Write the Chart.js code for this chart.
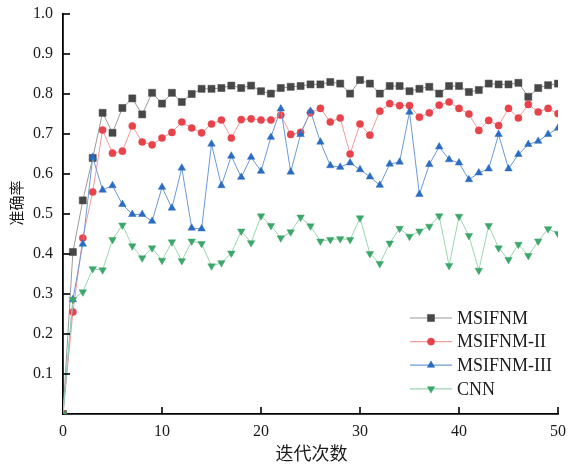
<!DOCTYPE html>
<html>
<head>
<meta charset="utf-8">
<script src="https://cdn.jsdelivr.net/npm/chart.js@4/dist/chart.umd.min.js"></script>
<style>
  html, body { margin: 0; padding: 0; background: #fff; }
  #wrap { width: 569px; height: 468px; }
</style>
</head>
<body>
<div id="wrap"><canvas id="c" width="569" height="468"></canvas></div>
<script>
// Iterations 0..50
const iterations = Array.from({ length: 51 }, (_, i) => i);

const seriesNames = ['MSIFNM', 'MSIFNM-II', 'MSIFNM-III', 'CNN'];

const msifnm = [
  0.000, 0.405, 0.534, 0.640, 0.753, 0.703, 0.765, 0.789, 0.749, 0.803,
  0.776, 0.803, 0.780, 0.800, 0.813, 0.813, 0.815, 0.821, 0.815, 0.821,
  0.807, 0.801, 0.815, 0.818, 0.820, 0.824, 0.824, 0.830, 0.826, 0.801,
  0.835, 0.826, 0.801, 0.820, 0.820, 0.807, 0.813, 0.818, 0.801, 0.820,
  0.820, 0.805, 0.810, 0.826, 0.824, 0.824, 0.828, 0.793, 0.815, 0.822,
  0.826
];

const msifnm2 = [
  0.000, 0.255, 0.440, 0.555, 0.710, 0.652, 0.657, 0.720, 0.680, 0.673,
  0.690, 0.704, 0.730, 0.715, 0.703, 0.725, 0.735, 0.690, 0.736, 0.738,
  0.735, 0.735, 0.747, 0.699, 0.704, 0.753, 0.764, 0.730, 0.740, 0.650,
  0.725, 0.697, 0.757, 0.776, 0.771, 0.771, 0.742, 0.753, 0.772, 0.780,
  0.764, 0.750, 0.709, 0.734, 0.721, 0.764, 0.740, 0.774, 0.755, 0.764,
  0.751
];

const msifnm3 = [
  0.000, 0.286, 0.425, 0.642, 0.560, 0.571, 0.524, 0.499, 0.499, 0.482,
  0.567, 0.515, 0.615, 0.465, 0.463, 0.675, 0.571, 0.645, 0.592, 0.642,
  0.607, 0.692, 0.763, 0.605, 0.699, 0.757, 0.680, 0.621, 0.617, 0.628,
  0.611, 0.593, 0.572, 0.625, 0.630, 0.755, 0.549, 0.624, 0.668, 0.636,
  0.628, 0.586, 0.603, 0.613, 0.699, 0.613, 0.649, 0.674, 0.682, 0.699,
  0.715
];

const cnn = [
  0.000, 0.286, 0.305, 0.363, 0.360, 0.436, 0.472, 0.420, 0.390, 0.415,
  0.384, 0.430, 0.383, 0.432, 0.426, 0.370, 0.378, 0.402, 0.457, 0.428,
  0.495, 0.471, 0.440, 0.455, 0.492, 0.470, 0.432, 0.436, 0.438, 0.436,
  0.490, 0.401, 0.376, 0.427, 0.464, 0.444, 0.457, 0.469, 0.495, 0.371,
  0.494, 0.446, 0.359, 0.471, 0.415, 0.386, 0.424, 0.396, 0.432, 0.463,
  0.451
];

const xTicks = [0, 10, 20, 30, 40, 50];
const yTicks = [0.1, 0.2, 0.3, 0.4, 0.5, 0.6, 0.7, 0.8, 0.9, 1.0];

const xTitle = '迭代次数';
const yTitle = '准确率';

const SERIF = '"Liberation Serif", "Times New Roman", serif';
const CJK = '"Noto Sans CJK SC", sans-serif';

const styles = [
  { line: '#9a9a9a', mark: '#474747', point: 'rect',     radius: 5,   rotation: 0 },
  { line: '#f39a9c', mark: '#e8424b', point: 'circle',   radius: 3.6, rotation: 0 },
  { line: '#6c98d8', mark: '#2a6cc2', point: 'triangle', radius: 4.3, rotation: 0 },
  { line: '#9bd6b2', mark: '#3ca66b', point: 'triangle', radius: 4.3, rotation: 180 }
];

const seriesData = [msifnm, msifnm2, msifnm3, cnn];

const datasets = seriesData.map((vals, k) => ({
  label: seriesNames[k],
  data: vals,
  borderColor: styles[k].line,
  borderWidth: 1,
  backgroundColor: styles[k].mark,
  pointBackgroundColor: styles[k].mark,
  pointBorderColor: styles[k].mark,
  pointBorderWidth: 0.5,
  pointStyle: styles[k].point,
  pointRadius: styles[k].radius,
  pointRotation: styles[k].rotation,
  pointHoverRadius: styles[k].radius,
  tension: 0,
  fill: false,
  order: 4 - k
}));

// Inward tick marks, axis titles and the line+marker legend
const decorations = {
  id: 'decorations',
  afterDraw(chart) {
    const ctx = chart.ctx;
    const area = chart.chartArea;
    const xs = chart.scales.x;
    const ys = chart.scales.y;
    ctx.save();
    ctx.strokeStyle = '#000';
    ctx.lineWidth = 1.6;
    const tl = 7;
    xTicks.forEach(v => {
      if (v === 0) return;
      const px = xs.getPixelForValue(v);
      ctx.beginPath();
      ctx.moveTo(px, area.bottom);
      ctx.lineTo(px, area.bottom - tl);
      ctx.stroke();
    });
    yTicks.forEach(v => {
      const py = ys.getPixelForValue(v);
      ctx.beginPath();
      ctx.moveTo(area.left, py);
      ctx.lineTo(area.left + tl, py);
      ctx.stroke();
    });

    // axis titles
    ctx.fillStyle = '#1a1a1a';
    ctx.textAlign = 'center';
    ctx.textBaseline = 'middle';
    ctx.font = '18px ' + CJK;
    ctx.fillText(xTitle, (area.left + area.right) / 2 + 1, area.bottom + 39);
    ctx.save();
    ctx.translate(16, (area.top + area.bottom) / 2 - 11);
    ctx.rotate(-Math.PI / 2);
    ctx.font = '15px ' + CJK;
    ctx.fillText(yTitle, 0, 0);
    ctx.restore();

    // legend
    const x0 = area.right - 148, x1 = area.right - 106;
    const tx = area.right - 101;
    ctx.font = '18px ' + SERIF;
    ctx.textAlign = 'left';
    chart.data.datasets.forEach((ds, k) => {
      const y = area.bottom - 96 + 23.6 * k;
      ctx.strokeStyle = ds.borderColor;
      ctx.lineWidth = 1.2;
      ctx.beginPath();
      ctx.moveTo(x0, y);
      ctx.lineTo(x1, y);
      ctx.stroke();
      ctx.fillStyle = ds.pointBackgroundColor;
      ctx.strokeStyle = ds.pointBorderColor;
      ctx.lineWidth = 0.5;
      Chart.helpers.drawPoint(ctx, {
        pointStyle: ds.pointStyle,
        radius: ds.pointRadius,
        rotation: ds.pointRotation,
        borderWidth: 0.5
      }, (x0 + x1) / 2, y);
      ctx.fillStyle = '#1a1a1a';
      ctx.fillText(ds.label, tx, y + 1);
    });
    ctx.restore();
  }
};

// keep the plot frame fixed: no extra room reserved for label overhang
function clearOverhang(scale) {
  scale.paddingTop = 0;
  scale.paddingBottom = 0;
  scale.paddingLeft = 0;
  scale.paddingRight = 0;
}

new Chart(document.getElementById('c'), {
  type: 'line',
  data: { labels: iterations, datasets },
  options: {
    responsive: false,
    animation: false,
    events: [],
    layout: { padding: { top: 14, right: 11, left: 0, bottom: 0 } },
    plugins: {
      legend: { display: false },
      tooltip: { enabled: false }
    },
    scales: {
      x: {
        type: 'linear',
        min: 0,
        max: 50,
        afterFit(scale) { scale.height = 54; clearOverhang(scale); },
        afterBuildTicks(scale) { scale.ticks = xTicks.map(v => ({ value: v })); },
        grid: { display: false, drawTicks: false },
        border: { display: true, color: '#000', width: 1.8 },
        ticks: {
          padding: 8,
          color: '#1a1a1a',
          font: { family: SERIF, size: 16 },
          maxRotation: 0,
          callback: v => String(v)
        }
      },
      y: {
        min: 0,
        max: 1,
        afterFit(scale) { scale.width = 63; clearOverhang(scale); },
        afterBuildTicks(scale) { scale.ticks = [0].concat(yTicks).map(v => ({ value: v })); },
        grid: { display: false, drawTicks: false },
        border: { display: true, color: '#000', width: 1.8 },
        ticks: {
          padding: 10,
          color: '#1a1a1a',
          font: { family: SERIF, size: 16 },
          callback: v => (v === 0 ? '' : Number(v).toFixed(1))
        }
      }
    }
  },
  plugins: [decorations]
});
</script>
</body>
</html>
